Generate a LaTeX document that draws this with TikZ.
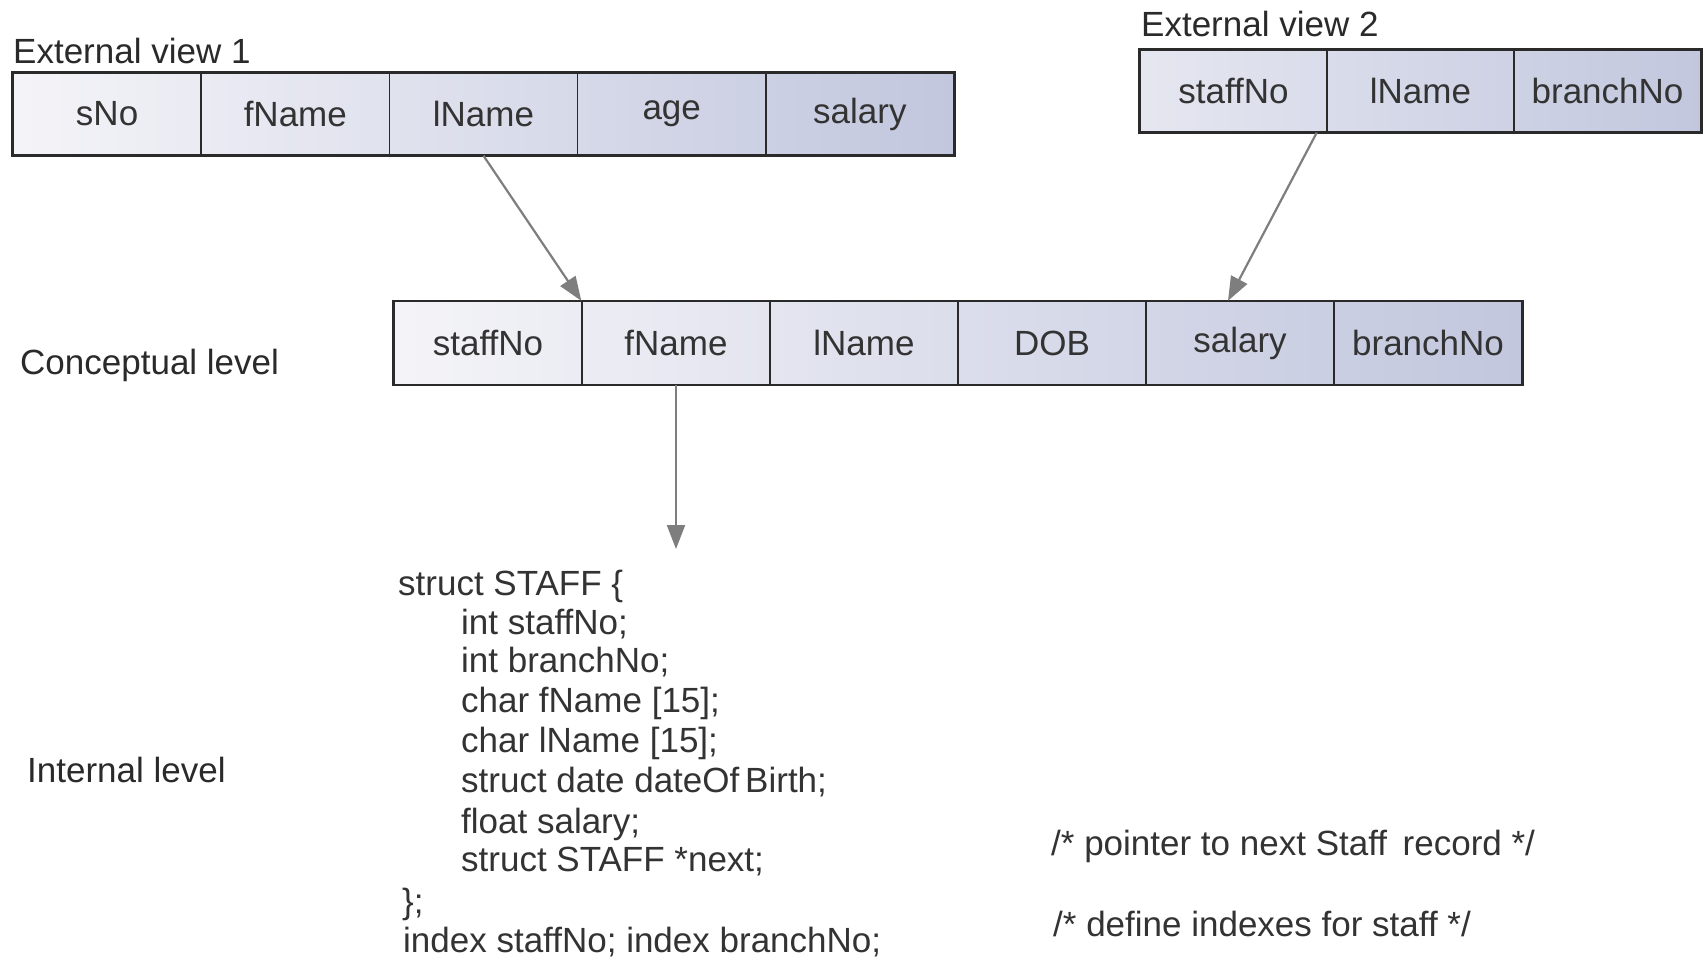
\documentclass[tikz,border=0pt]{standalone}
\usepackage{fontspec}
\setmainfont{Liberation Sans}
\usetikzlibrary{arrows.meta}
\definecolor{cellA}{HTML}{F4F4F8}
\definecolor{cellB}{HTML}{C2C7DE}
\definecolor{ink}{HTML}{2A2A2A}
\definecolor{txt}{HTML}{333333}
\definecolor{arr}{HTML}{7E7E7E}
\begin{document}
\begin{tikzpicture}[x=1pt,y=-1pt,
  cell/.style={draw=ink, line width=1.4pt, minimum height=82pt, minimum width=188pt,
    inner sep=0pt, font=\fontsize{35}{40}\selectfont, text=txt},
  rowframe/.style={draw=ink, line width=2.4pt},
  lbl/.style={anchor=base west, inner sep=0pt, font=\fontsize{35}{40}\selectfont, text=ink},
  code/.style={anchor=base west, inner sep=0pt, font=\fontsize{35}{40}\selectfont, text=txt},
  link/.style={draw=arr, line width=2.2pt, -{Triangle[length=24pt,width=18pt,fill=arr]}}]
\useasboundingbox[fill=white] (0,0) rectangle (1705,962);

% External view 1
\shade[left color=cellA, right color=cellB] (13,73) rectangle (954,155);
\node[cell] (va) at (107.1,114) {sNo};
\node[cell] (vb) at (295.3,114) {fName};
\node[cell] (vc) at (483.5,114) {lName};
\node[cell] (vd) at (671.7,114) {age};
\node[cell] (ve) at (859.9,114) {salary};
\draw[rowframe] (va.north west) rectangle (ve.south east);
\node[lbl] (ev1) at (13,63) {External view 1};

% External view 2
\shade[left color=cellA!70!cellB, right color=cellB] (1140,50) rectangle (1701,132);
\node[cell, minimum width=187pt] (wa) at (1233.5,91) {staffNo};
\node[cell, minimum width=187pt] (wb) at (1420.5,91) {lName};
\node[cell, minimum width=187pt] (wc) at (1607.5,91) {branchNo};
\draw[rowframe] (wa.north west) rectangle (wc.south east);
\node[lbl] (ev2) at (1141,36) {External view 2};

% Conceptual level
\shade[left color=cellA, right color=cellB] (394,301.5) rectangle (1522,384.5);
\node[cell, minimum height=83pt] (ca) at (488,343) {staffNo};
\node[cell, minimum height=83pt] (cb) at (676,343) {fName};
\node[cell, minimum height=83pt] (cc) at (864,343) {lName};
\node[cell, minimum height=83pt] (cd) at (1052,343) {DOB};
\node[cell, minimum height=83pt] (ce) at (1240,343) {salary};
\node[cell, minimum height=83pt] (cf) at (1428,343) {branchNo};
\draw[rowframe] (ca.north west) rectangle (cf.south east);
\node[lbl] (cl) at (20,374) {Conceptual level};

% Internal level
\node[lbl] (il) at (27,782) {Internal level};
\node[code] (k1) at (398,595) {struct STAFF \{};
\node[code] (k2) at (461,634) {int staffNo;};
\node[code] (k3) at (461,672) {int branchNo;};
\node[code] (k4) at (461,712) {char fName [15];};
\node[code] (k5) at (461,752) {char lName [15];};
\node[code] (k6) at (461,792) {struct date dateOf\,Birth;};
\node[code] (k7) at (461,833) {float salary;};
\node[code] (k8) at (461,871) {struct STAFF *next;};
\node[code] (k9) at (402,913) {\};};
\node[code] (k10) at (403,952) {index staffNo; index branchNo;};
\node[code] (m1) at (1051,855) {/* pointer to next Staff\, record */};
\node[code] (m2) at (1053,936) {/* define indexes for staff */};

% connectors
\coordinate (iend) at (676,549);
\draw[link] (vc.south) -- (cb.north west);
\draw[link] ([xshift=-11pt]wa.south east) -- ([xshift=-12pt]ce.north);
\draw[link] (cb.south) -- (iend);
\end{tikzpicture}
\end{document}
